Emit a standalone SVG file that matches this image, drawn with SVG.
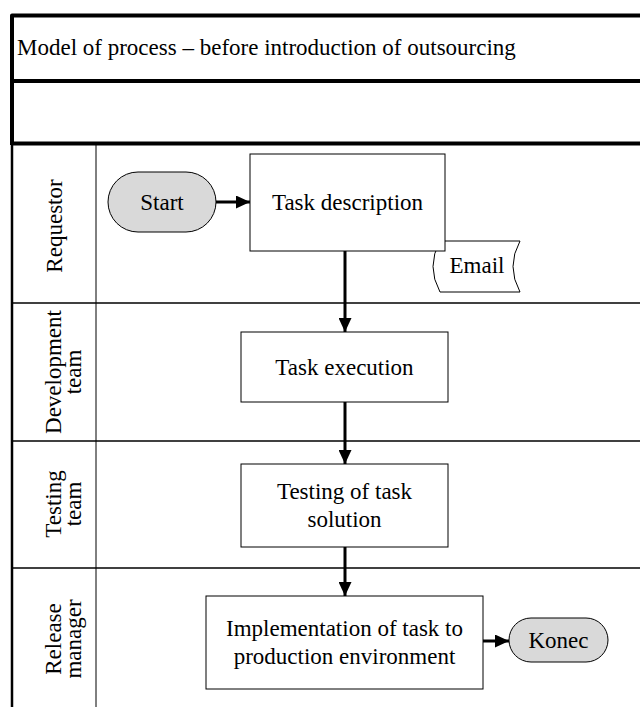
<svg xmlns="http://www.w3.org/2000/svg" width="640" height="707" viewBox="0 0 640 707">
<defs>
<style>
text{font-family:'Liberation Serif','DejaVu Serif',serif;font-size:23px;fill:#000}
.c{text-anchor:middle}
.box{fill:#fff;stroke:#000;stroke-width:1}
.term{fill:#d9d9d9;stroke:#000;stroke-width:1}
.lane{stroke:#000;stroke-width:1.3;fill:none}
.thick{stroke:#000;stroke-width:4;fill:none;stroke-linejoin:round}
.conn{stroke:#000;stroke-width:3;fill:none}
</style>
<marker id="ah" markerUnits="userSpaceOnUse" markerWidth="14" markerHeight="13" refX="14" refY="6.5" orient="auto">
<path d="M0,0 L14,6.5 L0,13 Z" fill="#000"/>
</marker>
</defs>
<rect width="640" height="707" fill="#fff"/>
<g id="frame">
<path class="thick" d="M640,15.5 L12,15.5 L12,145"/>
<line x1="12" y1="145" x2="12" y2="707" stroke="#000" stroke-width="2.5"/>
<line class="thick" x1="12" y1="81" x2="640" y2="81"/>
<line class="thick" x1="12" y1="143.5" x2="640" y2="143.5"/>
<line class="lane" x1="12" y1="303" x2="640" y2="303"/>
<line class="lane" x1="12" y1="441" x2="640" y2="441"/>
<line class="lane" x1="12" y1="568" x2="640" y2="568"/>
<line x1="96" y1="145" x2="96" y2="707" stroke="#000" stroke-width="1"/>
<text x="17" y="55" font-family="Liberation Serif, serif">Model of process – before introduction of outsourcing</text>
</g>
<g id="lane-labels" font-family="Liberation Serif, serif">
<text class="c" transform="translate(62,226) rotate(-90)">Requestor</text>
<text class="c" transform="translate(61,372) rotate(-90)">Development</text>
<text class="c" transform="translate(81,372) rotate(-90)">team</text>
<text class="c" transform="translate(61,504) rotate(-90)">Testing</text>
<text class="c" transform="translate(81,504) rotate(-90)">team</text>
<text class="c" transform="translate(61,639) rotate(-90)">Release</text>
<text class="c" transform="translate(81,639) rotate(-90)">manager</text>
</g>
<g id="email">
<path class="box" d="M440,241 L520,241 Q506,266.5 520,292 L440,292 Q426,266.5 440,241 Z"/>
<text class="c" x="477" y="273">Email</text>
</g>
<g id="start">
<rect class="term" x="108" y="172" width="108" height="60" rx="30" ry="30"/>
<text class="c" x="162" y="210">Start</text>
</g>
<g id="task-description">
<rect class="box" x="250" y="154" width="195" height="97"/>
<text class="c" x="347.5" y="210">Task description</text>
</g>
<g id="task-execution">
<rect class="box" x="241" y="332" width="207" height="70"/>
<text class="c" x="344.5" y="375">Task execution</text>
</g>
<g id="testing">
<rect class="box" x="241" y="464" width="207" height="83"/>
<text class="c" x="344.5" y="499">Testing of task</text>
<text class="c" x="344.5" y="527">solution</text>
</g>
<g id="implementation">
<rect class="box" x="206" y="596" width="277" height="93"/>
<text class="c" x="344.5" y="636">Implementation of task to</text>
<text class="c" x="344.5" y="664">production environment</text>
</g>
<g id="konec">
<rect class="term" x="509" y="618" width="99" height="44" rx="22" ry="22"/>
<text class="c" x="558.5" y="648">Konec</text>
</g>
<g id="connectors">
<line class="conn" x1="216" y1="202" x2="250" y2="202" marker-end="url(#ah)"/>
<line class="conn" x1="345" y1="251" x2="345" y2="332" marker-end="url(#ah)"/>
<line class="conn" x1="345" y1="402" x2="345" y2="464" marker-end="url(#ah)"/>
<line class="conn" x1="345" y1="547" x2="345" y2="596" marker-end="url(#ah)"/>
<line class="conn" x1="483" y1="641" x2="509" y2="641" marker-end="url(#ah)"/>
</g>
</svg>
